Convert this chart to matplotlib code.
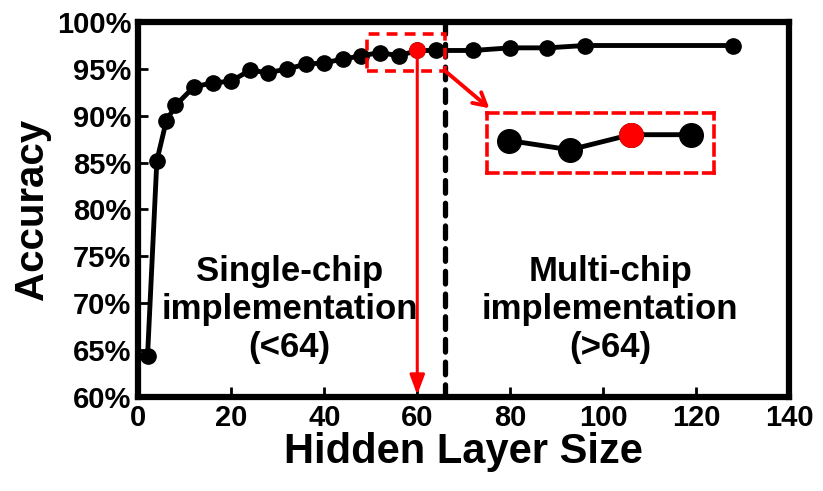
import matplotlib
matplotlib.use('Agg')
import matplotlib.pyplot as plt
from matplotlib.patches import Rectangle

plt.rcParams['font.family'] = ['Liberation Sans', 'DejaVu Sans']
plt.rcParams['font.weight'] = 'bold'

# hidden layer size vs accuracy (%)
hidden_size = [2, 4, 6, 8, 12, 16, 20, 24, 28, 32, 36, 40, 44, 48, 52, 56, 60, 64,
               72, 80, 88, 96, 128]
accuracy = [64.4, 85.2, 89.4, 91.1, 93.1, 93.5, 93.7, 94.85, 94.6, 95.0, 95.5, 95.65,
            96.05, 96.4, 96.75, 96.4, 96.97, 96.97, 96.97, 97.25, 97.25, 97.5, 97.5]
chosen_size = 60          # highlighted design point
chip_limit = 66           # where the dashed divider sits
zoom_sizes = [52, 56, 60, 64]

xticks = [0, 20, 40, 60, 80, 100, 120, 140]
yticks = [60, 65, 70, 75, 80, 85, 90, 95, 100]
ytick_labels = ['60%', '65%', '70%', '75%', '80%', '85%', '90%', '95%', '100%']

fig = plt.figure(figsize=(8.23, 4.91), dpi=100)
ax = fig.add_axes([0.168, 0.192, 0.791, 0.763])

ax.plot(hidden_size, accuracy, '-o', color='black', lw=3.5, ms=11, zorder=3)
i_red = hidden_size.index(chosen_size)
ax.plot(chosen_size, accuracy[i_red], 'o', color='red', ms=11, zorder=4)

ax.axvline(chip_limit, color='black', lw=3.8, ls=(0, (2.4, 1.9)),
           dash_capstyle='round', zorder=2)

# red arrow down to x axis
ax.annotate('', xy=(chosen_size, 60.2), xytext=(chosen_size, accuracy[i_red] - 0.6),
            arrowprops=dict(arrowstyle='-|>,head_length=1.2,head_width=0.45',
                            color='red', lw=2.2, shrinkA=0, shrinkB=0), zorder=5)

# dashed box around zoomed region
ax.add_patch(Rectangle((49.1, 94.75), 16.8, 4.0, fill=False, ec='red', lw=2.6,
                       ls=(0, (3, 2)), zorder=5))
ax.annotate('', xy=(75.5, 90.8), xytext=(66.2, 94.7),
            arrowprops=dict(arrowstyle='->,head_length=0.9,head_width=0.5',
                            color='red', lw=2.8, shrinkA=0, shrinkB=0), zorder=5)

# zoomed inset
iax = ax.inset_axes([74.9, 83.9, 48.9, 6.4], transform=ax.transData)
zi = [hidden_size.index(s) for s in zoom_sizes]
iax.plot(zoom_sizes, [accuracy[i] for i in zi], '-o', color='black', lw=3.5, ms=17)
iax.plot(chosen_size, accuracy[i_red], 'o', color='red', ms=17, zorder=4)
iax.set_xlim(50.5, 65.5)
iax.set_ylim(95.53, 97.79)
iax.set_xticks([])
iax.set_yticks([])
iax.patch.set_alpha(0)
for s in iax.spines.values():
    s.set_color('red')
    s.set_linewidth(2.6)
    s.set_linestyle((0, (3, 2)))

ax.text(32.5, 69.3, 'Single-chip\nimplementation\n(<64)', ha='center', va='center',
        fontsize=25, fontweight='bold', linespacing=1.2)
ax.text(101.5, 69.3, 'Multi-chip\nimplementation\n(>64)', ha='center', va='center',
        fontsize=25, fontweight='bold', linespacing=1.2)

ax.set_xlim(0, 140)
ax.set_ylim(60, 100)
ax.set_xticks(xticks)
ax.set_yticks(yticks)
ax.set_yticklabels(ytick_labels)
ax.tick_params(direction='in', length=7, width=2, labelsize=21, pad=5,
               top=False, right=False)
for lab in ax.get_xticklabels() + ax.get_yticklabels():
    lab.set_fontweight('bold')
for s in ax.spines.values():
    s.set_linewidth(4.5)

ax.set_xlabel('Hidden Layer Size', fontsize=30, fontweight='bold', labelpad=0)
ax.set_ylabel('Accuracy', fontsize=29, fontweight='bold', labelpad=4)

fig.savefig('out.png', dpi=100)
